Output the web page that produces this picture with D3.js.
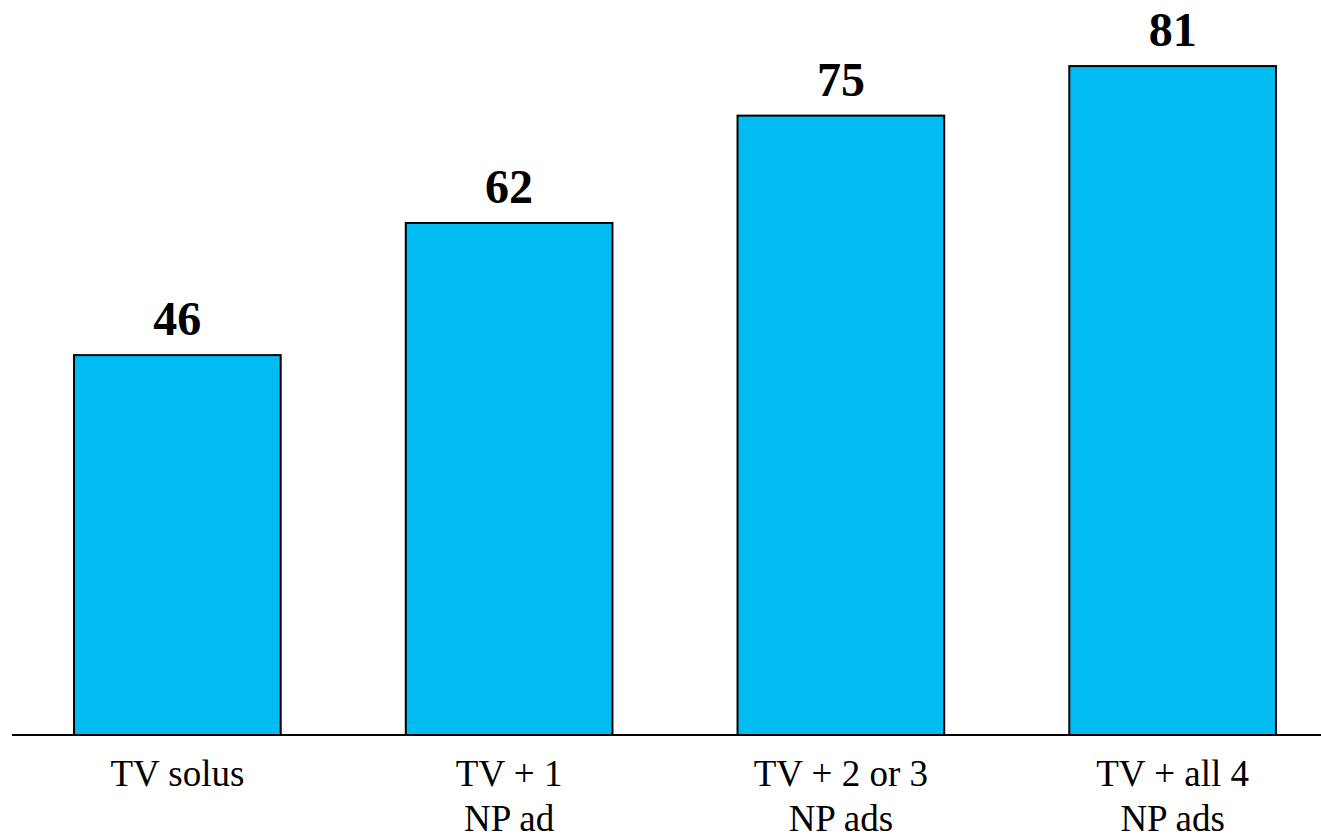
<!DOCTYPE html>
<html>
<head>
<meta charset="utf-8">
<script src="https://cdn.jsdelivr.net/npm/d3@7.9.0/dist/d3.min.js"></script>
<style>
  html, body { margin: 0; padding: 0; background: #fff; }
  svg { display: block; }
</style>
</head>
<body>
<svg id="chart" width="1321" height="839"></svg>
<script>
const categories = ['TV solus', 'TV + 1\nNP ad', 'TV + 2 or 3\nNP ads', 'TV + all 4\nNP ads'];
const values = [46, 62, 75, 81];

const width = 1321;
const baseline = 735;
const serif = "'Liberation Serif', 'Times New Roman', Times, 'DejaVu Serif', serif";

const svg = d3.select('#chart');

const x = d3.scaleBand()
  .domain(categories)
  .range([11, 1339])
  .paddingInner(0.377)
  .paddingOuter(0.19);

const y = d3.scaleLinear()
  .domain([0, 89])
  .range([baseline, 0]);

const data = categories.map((c, i) => ({ cat: c, value: values[i] }));

// bars
svg.selectAll('rect.bar')
  .data(data)
  .join('rect')
    .attr('class', 'bar')
    .attr('x', d => x(d.cat))
    .attr('y', d => y(d.value))
    .attr('width', x.bandwidth())
    .attr('height', d => y(0) - y(d.value))
    .attr('fill', '#00BCF2')
    .attr('stroke', '#000')
    .attr('stroke-width', 2);

// value labels
svg.selectAll('text.value')
  .data(data)
  .join('text')
    .attr('class', 'value')
    .attr('x', d => x(d.cat) + x.bandwidth() / 2)
    .attr('y', d => y(d.value) - 20)
    .attr('text-anchor', 'middle')
    .attr('font-family', serif)
    .attr('font-size', 48)
    .attr('font-weight', 'bold')
    .text(d => d.value);

// x axis line
svg.append('g')
  .attr('transform', `translate(0,${baseline})`)
  .call(d3.axisBottom(x).tickSize(0).tickFormat(''))
  .call(g => g.select('.domain').attr('stroke', '#000').attr('stroke-width', 2).attr('d', `M12,0H${width}`));

// category labels (multi-line)
const labels = svg.selectAll('text.cat')
  .data(data)
  .join('text')
    .attr('class', 'cat')
    .attr('text-anchor', 'middle')
    .attr('font-family', serif)
    .attr('font-size', 37)
    .attr('transform', d => `translate(${x(d.cat) + x.bandwidth() / 2},786)`);

labels.selectAll('tspan')
  .data(d => d.cat.split('\n'))
  .join('tspan')
    .attr('x', 0)
    .attr('y', (_, i) => i * 45)
    .text(d => d);
</script>
</body>
</html>
